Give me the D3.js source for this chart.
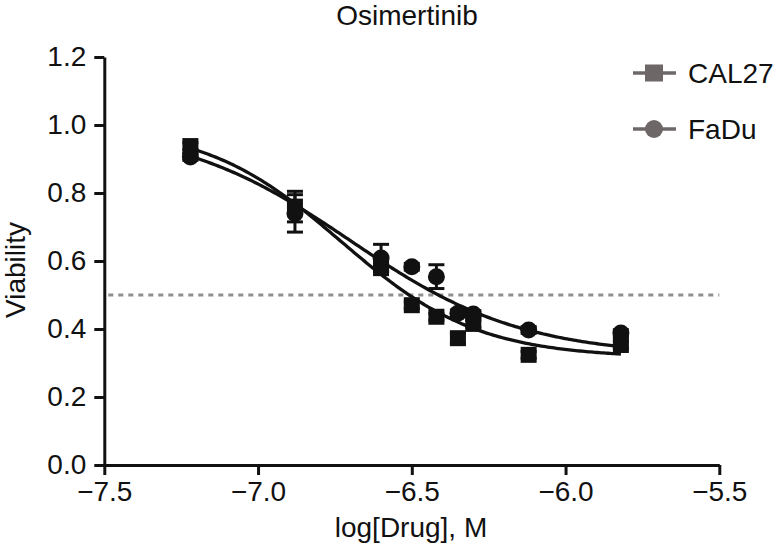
<!DOCTYPE html>
<html>
<head>
<meta charset="utf-8">
<script src="https://cdn.jsdelivr.net/npm/d3@7"></script>
<style>
  html, body { margin: 0; padding: 0; background: #fff; }
  svg { display: block; font-family: "Liberation Sans", Arial, Helvetica, sans-serif; }
</style>
</head>
<body>
<svg id="chart" width="776" height="552"></svg>
<script>
// ---- data ----
const title = "Osimertinib";
const xLabel = "log[Drug], M";
const yLabel = "Viability";
const seriesNames = ["CAL27", "FaDu"];
const logDose = [-7.22, -6.88, -6.60, -6.50, -6.42, -6.35, -6.30, -6.12, -5.82];
const cal27 = [0.938, 0.760, 0.579, 0.470, 0.436, 0.373, 0.415, 0.324, 0.353];
const cal27Err = [0.010, 0.045, 0.010, 0.010, 0.010, 0.015, 0.010, 0.010, 0.010];
const fadu = [0.906, 0.740, 0.609, 0.583, 0.554, 0.446, 0.444, 0.397, 0.388];
const faduErr = [0.010, 0.055, 0.040, 0.010, 0.035, 0.010, 0.010, 0.010, 0.010];
// four-parameter logistic fit: [top, bottom, logIC50, slope]
const cal27Fit = [1.0, 0.315, -6.73, 1.95];
const faduFit = [1.0, 0.32, -6.70, 1.55];
const xTicks = [-7.5, -7.0, -6.5, -6.0, -5.5];
const yTicks = [0.0, 0.2, 0.4, 0.6, 0.8, 1.0, 1.2];
const refLine = 0.5;

// ---- drawing ----
const svg = d3.select("#chart");
const x = d3.scaleLinear().domain([-7.5, -5.5]).range([104.3, 719.3]);
const y = d3.scaleLinear().domain([0, 1.2]).range([465, 57]);
const ink = "#111";
const legendGray = "#6e6767";
const fs = 28;

// title
svg.append("text").attr("x", 407).attr("y", 25).attr("text-anchor", "middle")
  .attr("font-size", 28).attr("fill", ink).text(title);

// reference dotted line
svg.append("line")
  .attr("x1", x(-7.5) + 4).attr("x2", x(-5.5))
  .attr("y1", y(refLine)).attr("y2", y(refLine))
  .attr("stroke", "#8f8f8f").attr("stroke-width", 2.8)
  .attr("stroke-dasharray", "5,5");

// axes
const fmt = d => (d < 0 ? "\u2212" : "") + Math.abs(d).toFixed(1);
const xAxis = svg.append("g").attr("transform", `translate(0,${y(0)})`)
  .call(d3.axisBottom(x).tickValues(xTicks).tickSize(10).tickSizeOuter(0).tickPadding(6).tickFormat(fmt));
const yAxis = svg.append("g").attr("transform", `translate(${x(-7.5)},0)`)
  .call(d3.axisLeft(y).tickValues(yTicks).tickSize(10).tickSizeOuter(0).tickPadding(9).tickFormat(d => d.toFixed(1)));
[xAxis, yAxis].forEach(g => {
  g.select(".domain").attr("stroke", ink).attr("stroke-width", 3);
  g.selectAll(".tick line").attr("stroke", ink).attr("stroke-width", 3);
  g.selectAll(".tick text").attr("fill", ink).attr("font-size", fs)
    .attr("font-family", "Liberation Sans, Arial, sans-serif");
});
xAxis.selectAll(".tick text").attr("dy", "0.71em").attr("y", 16);
yAxis.selectAll(".tick text").attr("x", -18);

// axis titles
svg.append("text").attr("x", 411).attr("y", 537).attr("text-anchor", "middle")
  .attr("font-size", fs).attr("fill", ink).text(xLabel);
svg.append("text").attr("transform", "translate(25,270) rotate(-90)")
  .attr("text-anchor", "middle").attr("font-size", fs).attr("fill", ink).text(yLabel);

// fitted curves
function logistic(p, v) { return p[1] + (p[0] - p[1]) / (1 + Math.pow(10, (v - p[2]) * p[3])); }
const xs = d3.range(0, 201).map(i => logDose[0] + (logDose[logDose.length - 1] - logDose[0]) * i / 200);
const line = d3.line().x(d => x(d[0])).y(d => y(d[1]));
[cal27Fit, faduFit].forEach(p => {
  svg.append("path").datum(xs.map(v => [v, logistic(p, v)]))
    .attr("d", line).attr("fill", "none").attr("stroke", ink).attr("stroke-width", 3.3);
});

// error bars
function errBars(vals, errs) {
  const g = svg.append("g").attr("stroke", ink).attr("stroke-width", 3);
  logDose.forEach((d, i) => {
    const cx = x(d), lo = y(vals[i] - errs[i]), hi = y(vals[i] + errs[i]);
    g.append("line").attr("x1", cx).attr("x2", cx).attr("y1", lo).attr("y2", hi);
    g.append("line").attr("x1", cx - 8).attr("x2", cx + 8).attr("y1", lo).attr("y2", lo);
    g.append("line").attr("x1", cx - 8).attr("x2", cx + 8).attr("y1", hi).attr("y2", hi);
  });
}
errBars(cal27, cal27Err);
errBars(fadu, faduErr);

// markers
const sq = 16;
svg.append("g").selectAll("rect").data(cal27).join("rect")
  .attr("x", (d, i) => x(logDose[i]) - sq / 2).attr("y", d => y(d) - sq / 2)
  .attr("width", sq).attr("height", sq).attr("fill", ink);
svg.append("g").selectAll("circle").data(fadu).join("circle")
  .attr("cx", (d, i) => x(logDose[i])).attr("cy", d => y(d)).attr("r", 8.5).attr("fill", ink);

// legend
const legY = [73, 129];
seriesNames.forEach((name, i) => {
  const g = svg.append("g");
  g.append("line").attr("x1", 633).attr("x2", 676).attr("y1", legY[i]).attr("y2", legY[i])
    .attr("stroke", legendGray).attr("stroke-width", 3.5);
  if (i === 0) {
    g.append("rect").attr("x", 654 - 9).attr("y", legY[i] - 8.5).attr("width", 18).attr("height", 17).attr("fill", legendGray);
  } else {
    g.append("circle").attr("cx", 654).attr("cy", legY[i]).attr("r", 9).attr("fill", legendGray);
  }
  g.append("text").attr("x", 688).attr("y", legY[i] + 10).attr("font-size", fs).attr("fill", ink).text(name);
});
</script>
</body>
</html>
